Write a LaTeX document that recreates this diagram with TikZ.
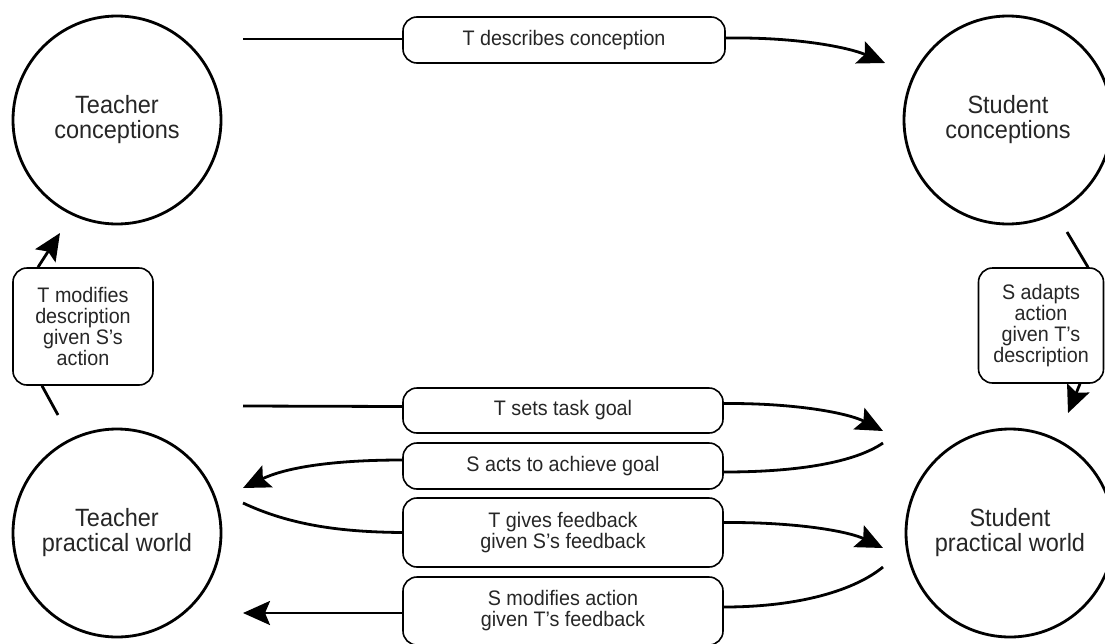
\documentclass[tikz,border=0pt]{standalone}
\usepackage{fontspec}
\setmainfont{Liberation Sans}[FakeStretch=0.94]
\usetikzlibrary{arrows.meta}
\begin{document}
\begin{tikzpicture}[x=1pt,y=-1pt,
  place/.style={circle,draw,line width=2.8pt,minimum size=208pt,inner sep=0pt,
    align=center,font=\fontsize{25}{25}\selectfont,text=black!85},
  act/.style={draw,line width=1.6pt,rounded corners=14pt,inner sep=0pt,
    align=center,font=\fontsize{21}{21}\selectfont,text=black!85,fill=white},
  link/.style={line width=2.8pt},
  arr/.style={link,-{Stealth[length=27pt,width=24pt,inset=5pt]}}]
\useasboundingbox (0,0) rectangle (1105,643);

% the four circles
\node[place] (tc) at (117,120) {Teacher\\conceptions};
\node[place] (sc) at (1008,120) {Student\\conceptions};
\node[place] (tw) at (117,533) {Teacher\\practical world};
\node[place] (sw) at (1010,533) {Student\\practical world};

% activity boxes
\node[act,minimum width=322pt,minimum height=46pt] (desc) at (564,40) {T describes conception};
\node[act,minimum width=320pt,minimum height=45pt] (goal) at (563,410.5) {T sets task goal};
\node[act,minimum width=320pt,minimum height=46pt] (acts) at (563,466) {S acts to achieve goal};
\node[act,minimum width=320pt,minimum height=69pt] (fb) at (563,532.5) {T gives feedback\\given S's feedback};
\node[act,minimum width=320pt,minimum height=68pt] (mod) at (563,611) {S modifies action\\given T's feedback};
\node[act,minimum width=140pt,minimum height=117pt] (tmod) at (83,326.5) {T modifies\\description\\given S's\\action};
\node[act,minimum width=125pt,minimum height=115pt] (sad) at (1041,325.5) {S adapts\\action\\given T's\\description};

% free ends of the connectors
\coordinate (d0) at (243,39);
\coordinate (d1) at (885,63);
\coordinate (g0) at (243,406);
\coordinate (g1) at (883,431);
\coordinate (a0) at (883,443);
\coordinate (a1) at (243,488);
\coordinate (f0) at (243,503);
\coordinate (f1) at (883,548);
\coordinate (m0) at (883,567);
\coordinate (m1) at (243,613);
\coordinate (l0) at (58,415);
\coordinate (l1) at (60,233);
\coordinate (r0) at (1067,232);
\coordinate (r1) at (1068,413);

% T describes conception
\draw[link] (d0) -- ([yshift=1pt]desc.west);
\draw[arr] ([yshift=2pt]desc.east) .. controls (800,37) and (850,48) .. (d1);

% T sets task goal
\draw[link] (g0) -- ([yshift=4pt]goal.west);
\draw[arr] ([yshift=7pt]goal.east) .. controls (800,403) and (850,414) .. (g1);

% S acts to achieve goal
\draw[link] (a0) .. controls (855,462) and (800,472) .. ([yshift=-6pt]acts.east);
\draw[arr] ([yshift=6pt]acts.west) .. controls (330,460) and (285,468) .. (a1);

% T gives feedback given S's feedback
\draw[link] (f0) .. controls (290,525) and (340,532) .. (fb.west);
\draw[arr] ([yshift=10pt]fb.east) .. controls (800,522) and (850,532) .. (f1);

% S modifies action given T's feedback
\draw[link] (m0) .. controls (855,590) and (800,607) .. ([yshift=4pt]mod.east);
\draw[arr] ([yshift=-2pt]mod.west) -- (m1);

% T modifies description given S's action
\draw[link] (l0) -- ([xshift=-41pt]tmod.south);
\draw[arr] ([xshift=-45pt]tmod.north) -- (l1);

% S adapts action given T's description
\draw[link] (r0) -- ([xshift=47pt]sad.north);
\draw[arr] ([xshift=39pt]sad.south) -- (r1);
\end{tikzpicture}
\end{document}
